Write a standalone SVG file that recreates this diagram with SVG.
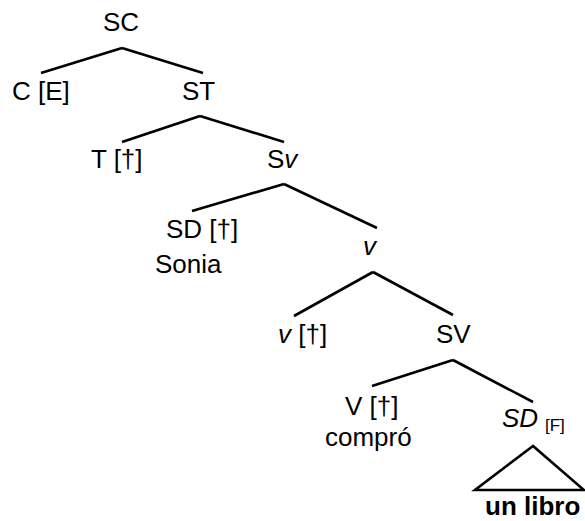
<svg xmlns="http://www.w3.org/2000/svg" width="585" height="521" viewBox="0 0 585 521">
<style>
text{font-family:"Liberation Sans",Arial,sans-serif;font-size:26px;fill:#000}
.i{font-style:italic}
.b{font-weight:bold}
.s{font-size:17px}
line,polygon{stroke:#000;stroke-width:2.6;fill:none;stroke-linecap:butt}
</style>
<rect width="585" height="521" fill="#fff"/>
<g id="connectors">
<line x1="122" y1="48" x2="41" y2="73"/>
<line x1="122" y1="48" x2="203" y2="73"/>
<line x1="200" y1="116" x2="122" y2="142"/>
<line x1="200" y1="116" x2="284" y2="142"/>
<line x1="284" y1="184" x2="192" y2="211"/>
<line x1="284" y1="184" x2="377" y2="228"/>
<line x1="373" y1="272" x2="294" y2="316"/>
<line x1="373" y1="272" x2="453" y2="315"/>
<line x1="453" y1="360" x2="372" y2="386"/>
<line x1="453" y1="360" x2="533" y2="402"/>
<polygon points="533,446 475,490 584,490"/>
</g>
<g id="SC"><text x="103" y="31">SC</text></g>
<g id="C"><text x="12" y="100">C [E]</text></g>
<g id="ST"><text x="182" y="100">ST</text></g>
<g id="T"><text x="91" y="168">T [†]</text></g>
<g id="Sv"><text x="267" y="168">S<tspan class="i">v</tspan></text></g>
<g id="SD"><text x="166" y="238">SD [†]</text><text x="155" y="273">Sonia</text></g>
<g id="vbar"><text class="i" x="363" y="255">v</text></g>
<g id="v"><text x="278" y="343"><tspan class="i">v</tspan> [†]</text></g>
<g id="SV"><text x="436" y="343">SV</text></g>
<g id="V"><text x="345" y="415">V [†]</text><text x="325" y="446">compró</text></g>
<g id="SD2"><text class="i" x="502" y="427">SD</text><text class="s" x="545" y="431">[F]</text></g>
<g id="libro"><text class="b" x="485" y="515">un libro</text></g>
</svg>
